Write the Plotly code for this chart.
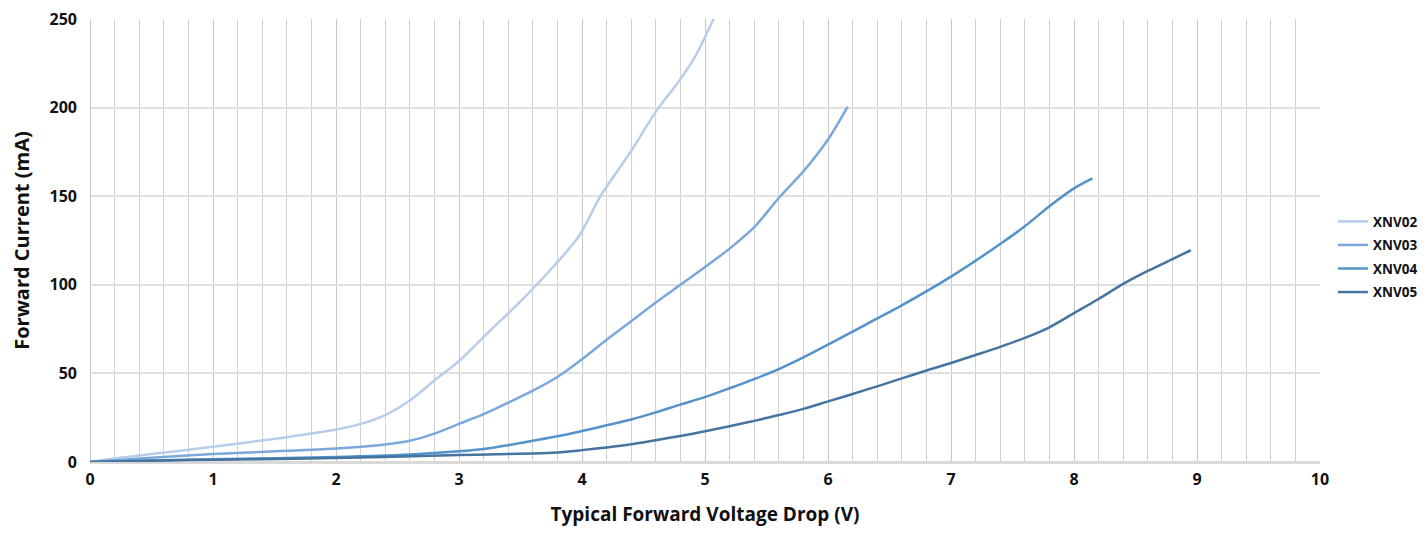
import plotly.graph_objects as go

# XNV02
v02 = [0, 0.2, 0.5, 1.0, 1.6, 2.0, 2.2, 2.4, 2.6, 2.8, 3.0, 3.25, 3.5, 3.79, 3.98, 4.15, 4.39, 4.61, 4.8, 4.93, 5.07, 5.2]
i02 = [0, 2, 4.5, 8.6, 14, 18.3, 21.5, 26.5, 34.7, 46, 57, 74, 90.6, 112, 128, 150, 174.5, 198.7, 216, 230, 250, 268]
# XNV03
v03 = [0, 0.5, 1.0, 1.6, 2.0, 2.4, 2.6, 2.8, 3.0, 3.2, 3.4, 3.6, 3.8, 4.0, 4.2, 4.4, 4.6, 4.8, 5.0, 5.2, 5.4, 5.6, 5.8, 6.0, 6.16]
i03 = [0, 2.4, 4.5, 6.3, 7.6, 9.9, 12, 16, 21.5, 27, 33.5, 40.3, 48, 58, 69, 79.4, 90, 100, 110, 120.4, 132.5, 149, 164, 182, 200.6]
# XNV04
v04 = [0, 0.5, 1.0, 2.0, 2.6, 3.0, 3.2, 3.4, 3.6, 3.8, 4.0, 4.2, 4.4, 4.6, 4.8, 5.0, 5.2, 5.4, 5.6, 5.8, 6.0, 6.2, 6.4, 6.6, 7.0, 7.4, 7.6, 7.8, 8.0, 8.15]
i04 = [0, 0.9, 1.6, 2.8, 4.2, 6, 7.3, 9.5, 12, 14.5, 17.5, 20.7, 24, 28, 32.4, 36.6, 41.6, 46.8, 52.4, 59, 66.2, 73.6, 81, 88.4, 104.6, 123, 133, 144.3, 154.4, 160]
# XNV05
v05 = [0, 0.5, 1.0, 2.0, 3.0, 3.4, 3.6, 3.8, 4.0, 4.2, 4.4, 4.6, 4.8, 5.0, 5.2, 5.4, 5.6, 5.8, 6.0, 6.2, 6.4, 6.6, 6.8, 7.0, 7.2, 7.4, 7.6, 7.8, 8.0, 8.2, 8.4, 8.6, 8.8, 8.95]
i05 = [0, 0.7, 1.3, 2.2, 3.9, 4.5, 4.8, 5.4, 6.7, 8.2, 10, 12.3, 14.7, 17.3, 20.2, 23.2, 26.5, 30, 34.2, 38.4, 42.7, 47.2, 51.6, 55.9, 60.4, 65, 70, 76, 84, 92, 100.5, 107.8, 114.5, 119.5]

series = [
    ("XNV02", v02, i02, "#b7cde9"),
    ("XNV03", v03, i03, "#7ba8dc"),
    ("XNV04", v04, i04, "#5592c9"),
    ("XNV05", v05, i05, "#44749f"),
]

fig = go.Figure()
for name, xs, ys, col in series:
    fig.add_trace(go.Scatter(x=xs, y=ys, name=name, mode="lines", legendgroup=name,
                             line=dict(color=col, width=2.5, shape="spline", smoothing=0.8)))

font_family = "Open Sans, Liberation Sans, sans-serif"
fig.update_layout(
    width=1411, height=519,
    margin=dict(l=82, r=99, t=11, b=65),
    paper_bgcolor="white", plot_bgcolor="white",
    font=dict(family=font_family, color="#111111", weight="bold"),
    legend=dict(xref="container", yref="container", x=0.939, y=0.52,
                xanchor="left", yanchor="middle",
                font=dict(size=13.5, family=font_family, weight="bold"),
                itemwidth=30, tracegroupgap=3),
    xaxis=dict(range=[0, 10], dtick=1, tick0=0, automargin=False,
               showgrid=True, gridcolor="#c8c8c8", gridwidth=1,
               minor=dict(dtick=0.2, showgrid=True, gridcolor="#d2d2d2", gridwidth=1),
               zeroline=True, zerolinecolor="#c8c8c8", zerolinewidth=1,
               ticks="", ticklabelstandoff=6, ticklabeloverflow="allow",
               tickfont=dict(size=16, weight="bold"),
               title=dict(text="Typical Forward Voltage Drop (V)", font=dict(size=19, weight="bold"), standoff=29)),
    yaxis=dict(range=[0, 250], dtick=50, tick0=0, automargin=False,
               showgrid=True, gridcolor="#e0e0e0", gridwidth=1.5,
               zeroline=True, zerolinecolor="#d9d9d9", zerolinewidth=2.5,
               ticks="", ticklabelstandoff=12, ticklabeloverflow="allow",
               tickfont=dict(size=16, weight="bold"),
               title=dict(text="Forward Current (mA)", font=dict(size=20, weight="bold"), standoff=20)),
)

fig.write_html("out.html")
